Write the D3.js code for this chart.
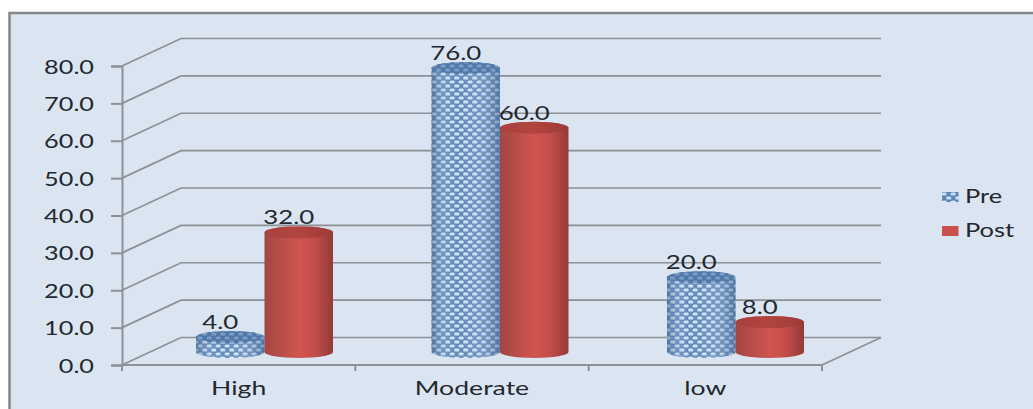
<!DOCTYPE html>
<html>
<head>
<meta charset="utf-8">
<script src="https://cdn.jsdelivr.net/npm/d3@7/dist/d3.min.js"></script>
<style>
html,body{margin:0;padding:0;background:#fff;}
svg{display:block;}
text{font-family:Lato,"Open Sans",sans-serif;font-size:19px;fill:#23272e;}
</style>
</head>
<body>
<div id="chart"></div>
<script>
// Pre/Post values per level
const categories = ["High", "Moderate", "low"];
const seriesNames = ["Pre", "Post"];
const preValues = [4.0, 76.0, 20.0];
const postValues = [32.0, 60.0, 8.0];
const yTicks = [0, 10, 20, 30, 40, 50, 60, 70, 80];

const W = 1033, H = 409;
const depth = {dx: 59, dy: -27.5};   // offset of the back wall
const barLift = -13;                 // bars stand mid-way along the floor
const barWidth = 68.5;
const ry = 6;

const svg = d3.select("#chart").append("svg").attr("width", W).attr("height", H);
const defs = svg.append("defs");

// Honeycomb weave for the Pre series
const weave = defs.append("pattern").attr("id", "weave")
  .attr("patternUnits", "userSpaceOnUse").attr("width", 9).attr("height", 8);
weave.append("rect").attr("width", 9).attr("height", 8).attr("fill", "#5a86bb");
[[2.2, 2], [6.7, 6], [-2.3, 6], [11.2, 2]].forEach(([cx, cy]) => {
  weave.append("ellipse").attr("cx", cx).attr("cy", cy).attr("rx", 2.6).attr("ry", 1.4).attr("fill", "#dfeaf8");
  weave.append("ellipse").attr("cx", cx).attr("cy", cy + 1.3).attr("rx", 2.5).attr("ry", 0.8).attr("fill", "#94b5dc");
});

function hGradient(id, stops) {
  const g = defs.append("linearGradient").attr("id", id).attr("x1", 0).attr("x2", 1).attr("y1", 0).attr("y2", 0);
  stops.forEach(([o, c, a]) => g.append("stop").attr("offset", o).attr("stop-color", c).attr("stop-opacity", a));
}
hGradient("redBody", [[0, "#a34642", 1], [0.5, "#d0544f", 1], [0.72, "#c64e4a", 1], [1, "#933b38", 1]]);
hGradient("weaveShade", [[0, "#3a5f8c", 0.5], [0.3, "#ffffff", 0.05], [0.55, "#ffffff", 0.08], [1, "#3a5f8c", 0.55]]);
hGradient("redTop", [[0, "#a8413d", 1], [0.5, "#b2443f", 1], [1, "#9c3b38", 1]]);

// Panel
svg.append("rect").attr("x", 9.5).attr("y", 13).attr("width", W + 20).attr("height", H + 20)
  .attr("fill", "#dae5f1").attr("stroke", "#85878a").attr("stroke-width", 2.5);

// Scales: the axis bands, and the slightly wider spread of the bars along the floor
const x = d3.scaleBand().domain(categories).range([122, 822]);
const y = d3.scaleLinear().domain([0, 80]).range([365, 66]);
const xBars = d3.scaleBand().domain(categories).range([146.75, 853.25]);

const gridColor = "#8d9095";

// Walls: side-wall diagonals and back-wall rules
const grid = svg.append("g").attr("fill", "none").attr("stroke", gridColor).attr("stroke-width", 1.7);
grid.selectAll("path").data(yTicks).join("path")
  .attr("d", t => {
    const p = d3.path();
    p.moveTo(x.range()[0], y(t));
    p.lineTo(x.range()[0] + depth.dx, y(t) + depth.dy);
    p.lineTo(x.range()[1] + depth.dx, y(t) + depth.dy);
    return p.toString();
  });
grid.append("line")
  .attr("x1", x.range()[1]).attr("y1", y(0))
  .attr("x2", x.range()[1] + depth.dx).attr("y2", y(0) + depth.dy);

// Value axis
const yAxis = svg.append("g").attr("transform", `translate(${x.range()[0]},0)`)
  .call(d3.axisLeft(y).tickValues(yTicks).tickSize(11).tickFormat(d3.format(".1f")));
yAxis.selectAll("path,line").attr("stroke", gridColor).attr("stroke-width", 2);
yAxis.selectAll("text")
  .attr("x", null).attr("dy", null).attr("fill", null)
  .attr("text-anchor", "end")
  .attr("transform", "translate(-28,7) scale(1.33,1)");
yAxis.attr("font-size", null).attr("font-family", null);

// Category axis: ticks on the band edges, labels on the centres
const baseline = svg.append("g").attr("stroke", gridColor).attr("stroke-width", 2);
baseline.append("line").attr("x1", x.range()[0]).attr("x2", x.range()[1]).attr("y1", y(0)).attr("y2", y(0));
baseline.selectAll(".tick").data(d3.range(categories.length + 1)).join("line").attr("class", "tick")
  .attr("x1", i => x.range()[0] + i * x.step()).attr("x2", i => x.range()[0] + i * x.step())
  .attr("y1", y(0)).attr("y2", y(0) + 6);
svg.selectAll(".cat").data(categories).join("text").attr("class", "cat")
  .attr("text-anchor", "middle")
  .attr("transform", c => `translate(${x(c) + x.bandwidth() / 2},395) scale(1.4,1)`)
  .text(c => c);

// Cylinders
function bodyPath(xl, w, yTop, yBase) {
  const rx = w / 2;
  return `M${xl},${yTop}A${rx},${ry} 0 0 1 ${xl + w},${yTop}` +
         `L${xl + w},${yBase}A${rx},${ry} 0 0 1 ${xl},${yBase}Z`;
}
const rows = categories.flatMap((c, i) => [
  {cat: c, series: "Pre", value: preValues[i]},
  {cat: c, series: "Post", value: postValues[i]}
]);
const topY = d => y(d.value) + barLift;
const baseY = y(0) + barLift;
const left = d => xBars(d.cat) + xBars.bandwidth() / 2 + (d.series === "Pre" ? -barWidth : 0);

const bars = svg.append("g").selectAll("g").data(rows).join("g");
bars.each(function (d) {
  const g = d3.select(this), xl = left(d), rx = barWidth / 2;
  const body = bodyPath(xl, barWidth, topY(d), baseY);
  if (d.series === "Pre") {
    g.append("path").attr("d", body).attr("fill", "url(#weave)");
    g.append("path").attr("d", body).attr("fill", "url(#weaveShade)");
    g.append("ellipse").attr("cx", xl + rx).attr("cy", topY(d)).attr("rx", rx).attr("ry", ry).attr("fill", "url(#weave)");
    g.append("ellipse").attr("cx", xl + rx).attr("cy", topY(d)).attr("rx", rx).attr("ry", ry).attr("fill", "#466e9f").attr("fill-opacity", 0.6);
  } else {
    g.append("path").attr("d", body).attr("fill", "url(#redBody)");
    g.append("ellipse").attr("cx", xl + rx).attr("cy", topY(d)).attr("rx", rx).attr("ry", ry).attr("fill", "url(#redTop)");
  }
});

// Value labels
svg.append("g").selectAll("text").data(rows).join("text")
  .attr("text-anchor", "middle")
  .attr("transform", d => `translate(${left(d) + barWidth / 2 - 10},${topY(d) - 8}) scale(1.36,1)`)
  .text(d => d3.format(".1f")(d.value));

// Legend
const legendRow = d3.scaleOrdinal().domain(seriesNames).range([192, 226]);
const legend = svg.append("g").selectAll("g").data(seriesNames).join("g")
  .attr("transform", s => `translate(942,${legendRow(s)})`);
legend.append("rect").attr("width", 16.5).attr("height", 10)
  .attr("fill", s => s === "Pre" ? "url(#weave)" : "#c9504c");
legend.append("text")
  .attr("transform", "translate(23,10.5) scale(1.34,1)")
  .text(s => s);
</script>
</body>
</html>
